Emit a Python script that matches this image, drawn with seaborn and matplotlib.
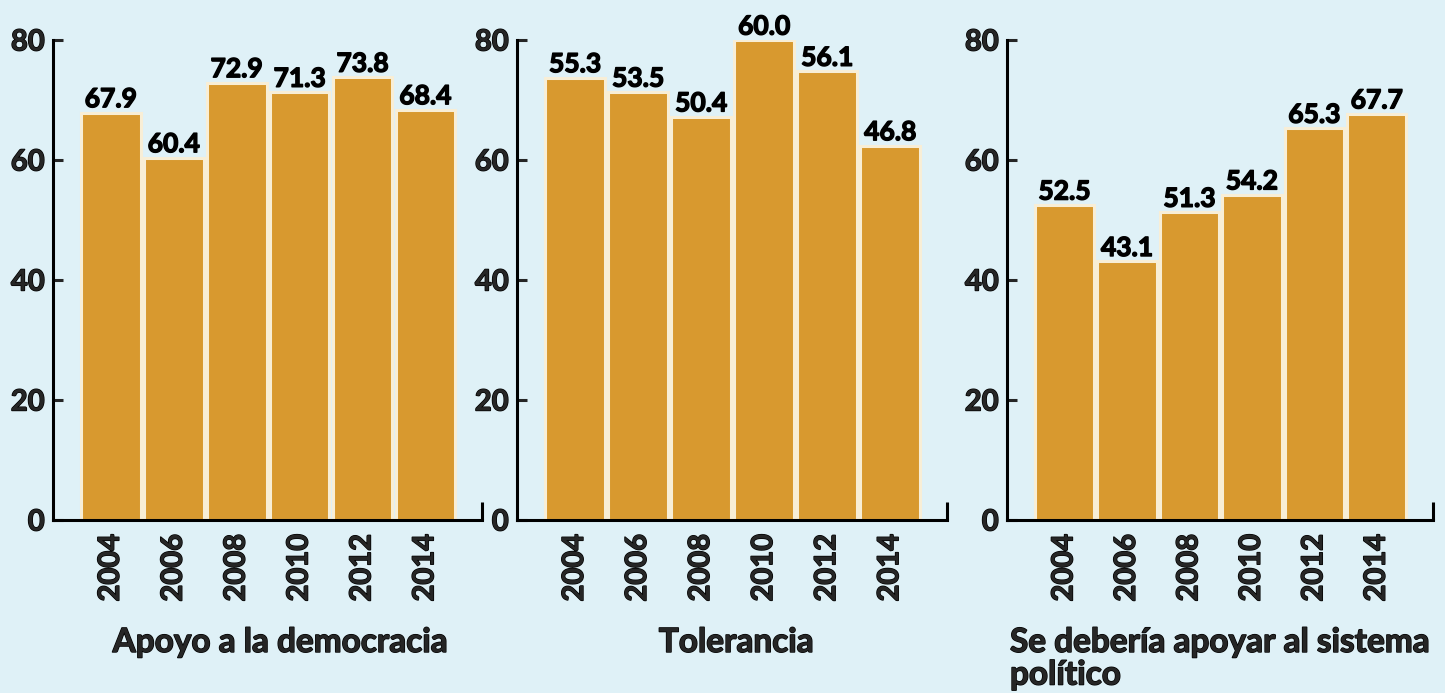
import matplotlib
matplotlib.use("Agg")
import matplotlib.pyplot as plt
import matplotlib.patheffects as pe
import seaborn as sns
import pandas as pd

# Data
years = ["2004", "2006", "2008", "2010", "2012", "2014"]
apoyo = [67.9, 60.4, 72.9, 71.3, 73.8, 68.4]
tolerancia = [55.3, 53.5, 50.4, 60.0, 56.1, 46.8]
sistema = [52.5, 43.1, 51.3, 54.2, 65.3, 67.7]
titles = ["Apoyo a la democracia", "Tolerancia", "Se debería apoyar al sistema\npolítico"]

# y-axis: the middle panel in the original is drawn on a 0-60 scale but labelled 0-80
y_labels = ["0", "20", "40", "60", "80"]
y_ticks = [[0, 20, 40, 60, 80], [0, 15, 30, 45, 60], [0, 20, 40, 60, 80]]
y_max = [80, 60, 80]

bg = "#dff1f7"
bar_color = "#d8992f"
edge_color = "#f8eed6"

sns.set_theme(style="white")
plt.rcParams["font.family"] = ["Lato", "DejaVu Sans"]

# slightly heavier strokes to mimic the black-weight font of the original
heavy = [pe.withStroke(linewidth=1.0, foreground="black")]

fig = plt.figure(figsize=(14.45, 6.93), dpi=100)
fig.patch.set_facecolor(bg)

W, H = 1445, 693
boxes = [(53, 429), (517, 430), (1007, 426)]
series = [apoyo, tolerancia, sistema]
title_x = [0.53, 0.51, 0.007]
title_ha = ["center", "center", "left"]

for i, (left, width) in enumerate(boxes):
    ax = fig.add_axes([left / W, 173 / H, width / W, 480 / H])
    ax.set_facecolor(bg)
    df = pd.DataFrame({"year": years, "value": series[i]})
    sns.barplot(data=df, x="year", y="value", color=bar_color, saturation=1,
                width=0.95, edgecolor=edge_color, linewidth=2.2, ax=ax)
    labels = ax.bar_label(ax.containers[0], fmt="%.1f", padding=1,
                          fontsize=19, fontweight="bold", color="black")
    for t in labels:
        t.set_path_effects(heavy)

    ax.set_xlim(-0.92, 5.9)
    ax.set_ylim(0, y_max[i])
    ax.set_yticks(y_ticks[i])
    ax.set_yticklabels(y_labels)
    ax.set_xlabel("")
    ax.set_ylabel("")

    for s in ["top", "right"]:
        ax.spines[s].set_visible(False)
    for s in ["left", "bottom"]:
        ax.spines[s].set_linewidth(2.2)
        ax.spines[s].set_color("black")
        ax.spines[s].set_zorder(5)

    ax.tick_params(axis="y", direction="in", length=7, width=2.2, pad=6,
                   labelsize=21, left=True)
    ax.tick_params(axis="x", length=0, pad=10, labelsize=21, rotation=90)
    for lab in ax.get_xticklabels() + ax.get_yticklabels():
        lab.set_fontweight("bold")
        lab.set_path_effects(heavy)

    # small upturned end of the x axis
    ax.plot([1, 1], [0, 0.037], transform=ax.transAxes, color="black",
            lw=2.2, clip_on=False, solid_capstyle="butt", zorder=6)

    ax.text(title_x[i], -0.225, titles[i], transform=ax.transAxes,
            ha=title_ha[i], va="top", fontsize=24, fontweight="bold",
            linespacing=1.15, path_effects=heavy)

fig.savefig("out.png", dpi=100, facecolor=bg)
